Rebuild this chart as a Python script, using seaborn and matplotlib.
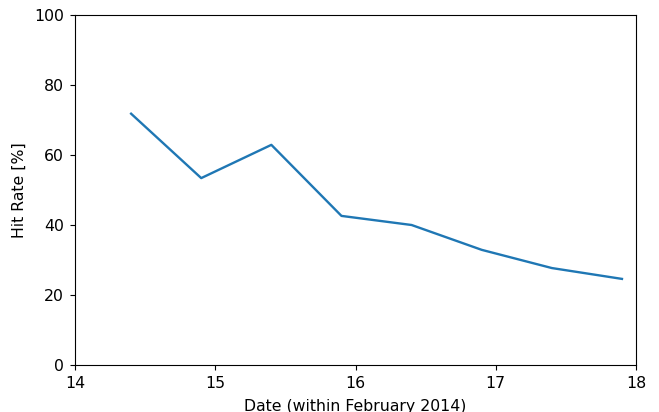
import matplotlib
matplotlib.use("Agg")
import matplotlib.pyplot as plt
import seaborn as sns
import pandas as pd

# Daily hit rate over a few days in February 2014
day = [14.4, 14.9, 15.4, 15.9, 16.4, 16.9, 17.4, 17.9]
hit_rate = [71.8, 53.4, 62.9, 42.6, 40.0, 32.9, 27.7, 24.6]

df = pd.DataFrame({"day": day, "hit_rate": hit_rate})

fig = plt.figure(figsize=(6.59, 4.12), dpi=100)
ax = fig.add_axes([75 / 659, 1 - 365 / 412, (636 - 75) / 659, (365 - 15) / 412])
sns.lineplot(data=df, x="day", y="hit_rate", ax=ax, color="#1f77b4", linewidth=1.7)

ax.set_xlim(14, 18)
ax.set_ylim(0, 100)
ax.set_xticks([14, 15, 16, 17, 18])
ax.set_yticks([0, 20, 40, 60, 80, 100])
ax.tick_params(labelsize=11.3, pad=4.5)
ax.set_xlabel("Date (within February 2014)", fontsize=11.3, labelpad=6)
ax.set_ylabel("Hit Rate [%]", fontsize=11.3, labelpad=5)

fig.savefig("out.png", dpi=100)
